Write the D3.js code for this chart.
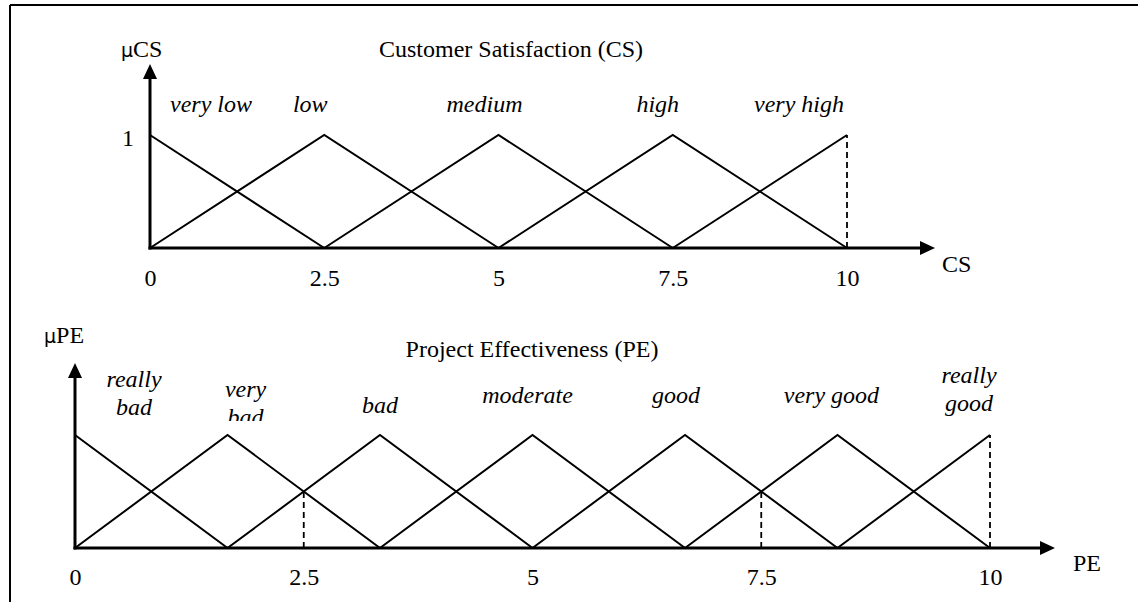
<!DOCTYPE html>
<html>
<head>
<meta charset="utf-8">
<script src="https://cdn.jsdelivr.net/npm/d3@7"></script>
<style>
  html, body { margin: 0; padding: 0; background: #fff; }
  svg { display: block; }
  text { font-family: "Liberation Serif", "Times New Roman", serif; fill: #000; }
</style>
</head>
<body>
<svg id="chart" width="1138" height="602"></svg>
<script>
// ---------- DATA ----------
const tickValues = [0, 2.5, 5, 7.5, 10];
const tickLabels = ["0", "2.5", "5", "7.5", "10"];

// Customer Satisfaction (CS) terms and triangle vertices [x, membership]
const csTerms = ["very low", "low", "medium", "high", "very high"];
const csShapes = [
  [[0, 1], [2.5, 0]],
  [[0, 0], [2.5, 1], [5, 0]],
  [[2.5, 0], [5, 1], [7.5, 0]],
  [[5, 0], [7.5, 1], [10, 0]],
  [[7.5, 0], [10, 1]]
];
const csPeaks = [0, 2.5, 5, 7.5, 10];
const csDashed = [[[10, 0], [10, 1]]];

// Project Effectiveness (PE) terms and triangle vertices
const peTerms = [["really", "bad"], ["very", "bad"], ["bad"], ["moderate"], ["good"], ["very good"], ["really", "good"]];
const peShapes = [
  [[0, 1], [1.667, 0]],
  [[0, 0], [1.667, 1], [3.333, 0]],
  [[1.667, 0], [3.333, 1], [5, 0]],
  [[3.333, 0], [5, 1], [6.667, 0]],
  [[5, 0], [6.667, 1], [8.333, 0]],
  [[6.667, 0], [8.333, 1], [10, 0]],
  [[8.333, 0], [10, 1]]
];
const pePeaks = [0, 1.667, 3.333, 5, 6.667, 8.333, 10];
const peDashed = [[[2.5, 0], [2.5, 0.5]], [[7.5, 0], [7.5, 0.5]], [[10, 0], [10, 1]]];

// ---------- LAYOUT ----------
const svg = d3.select("#chart");
const FS = 24;
const SERIF = '"Liberation Serif", "Times New Roman", serif';

// frame (top + left border)
svg.append("line").attr("x1", 10).attr("y1", 5).attr("x2", 1138).attr("y2", 5)
  .attr("stroke", "#000").attr("stroke-width", 2);
svg.append("line").attr("x1", 10).attr("y1", 5).attr("x2", 10).attr("y2", 602)
  .attr("stroke", "#000").attr("stroke-width", 2);

svg.append("defs").append("clipPath").attr("id", "clipVB")
  .append("rect").attr("x", 0).attr("y", 0).attr("width", 1138).attr("height", 421);

function drawPanel(cfg) {
  const x = d3.scaleLinear().domain([0, 10]).range(cfg.xRange);
  const y = d3.scaleLinear().domain([0, 1]).range(cfg.yRange);
  const g = svg.append("g");
  const line = d3.line().x(d => x(d[0])).y(d => y(d[1]));

  // membership triangles
  g.selectAll("path.mf").data(cfg.shapes).join("path")
    .attr("class", "mf")
    .attr("d", line)
    .attr("fill", "none").attr("stroke", "#000").attr("stroke-width", 2)
    .attr("stroke-linejoin", "miter");

  // dashed guides
  g.selectAll("path.dash").data(cfg.dashed).join("path")
    .attr("class", "dash")
    .attr("d", line)
    .attr("fill", "none").attr("stroke", "#000").attr("stroke-width", 1.8)
    .attr("stroke-dasharray", "6,4");

  // axes lines
  const x0 = x(0), y0 = y(0);
  g.append("line").attr("x1", x0 - 1.5).attr("y1", y0).attr("x2", cfg.xTip - 14).attr("y2", y0)
    .attr("stroke", "#000").attr("stroke-width", 3);
  g.append("path")
    .attr("d", `M${cfg.xTip},${y0} L${cfg.xTip - 15},${y0 - 7} L${cfg.xTip - 15},${y0 + 7} Z`)
    .attr("fill", "#000");
  g.append("line").attr("x1", x0).attr("y1", y0 + 1.5).attr("x2", x0).attr("y2", cfg.yTip + 14)
    .attr("stroke", "#000").attr("stroke-width", 3);
  g.append("path")
    .attr("d", `M${x0},${cfg.yTip} L${x0 - 7},${cfg.yTip + 15} L${x0 + 7},${cfg.yTip + 15} Z`)
    .attr("fill", "#000");

  // x tick labels via d3 axis
  const axis = d3.axisBottom(x).tickValues(tickValues)
    .tickFormat((d, i) => tickLabels[i]).tickSize(0);
  const ag = g.append("g").attr("transform", `translate(0,${y0})`).call(axis);
  ag.attr("font-family", null).attr("font-size", null);
  ag.select(".domain").remove();
  ag.selectAll("text")
    .attr("y", cfg.tickDy).attr("dy", 0)
    .style("font-family", SERIF)
    .style("font-size", FS + "px").attr("fill", "#000");

  // axis names
  g.append("text").attr("x", cfg.xName[0]).attr("y", cfg.xName[1])
    .style("font-size", FS + "px").text(cfg.xLabel);
  const mu = g.append("text").attr("x", cfg.muPos[0]).attr("y", cfg.muPos[1])
    .style("font-size", FS + "px");
  mu.append("tspan").style("font-family", '"DejaVu Sans", sans-serif').style("font-size", (FS - 5) + "px").text("\u03BC");
  mu.append("tspan").text(cfg.xLabel);

  // title
  g.append("text").attr("x", cfg.title[1]).attr("y", cfg.title[2])
    .attr("text-anchor", "middle").style("font-size", FS + "px").text(cfg.title[0]);

  // term labels
  cfg.terms.forEach((t, i) => {
    const lines = Array.isArray(t) ? t : [t];
    const tx = x(cfg.peaks[i]) + cfg.labelDx[i];
    const parent = cfg.clip && cfg.clip[i] ? g.append("g").attr("clip-path", "url(#clipVB)") : g;
    const txt = parent.append("text")
      .attr("x", tx).attr("y", cfg.labelY[i])
      .attr("text-anchor", "middle")
      .style("font-family", SERIF)
      .style("font-size", FS + "px").style("font-style", "italic");
    lines.forEach((l, k) => {
      txt.append("tspan").attr("x", tx).attr("dy", k === 0 ? 0 : 28).text(l);
    });
  });
  return { x, y };
}

// Top panel: Customer Satisfaction
const csPanel = drawPanel({
  xRange: [150, 847], yRange: [248, 135],
  xTip: 935, yTip: 64,
  shapes: csShapes, dashed: csDashed,
  tickDy: 38,
  xLabel: "CS", xName: [942, 272], muPos: [121, 57],
  title: ["Customer Satisfaction (CS)", 511, 57],
  terms: csTerms, peaks: csPeaks,
  labelDx: [61, -14, -14, -15, -48],
  labelY: [112, 112, 112, 112, 112]
});
// "1" tick on y axis
svg.append("text").attr("x", csPanel.x(0) - 16).attr("y", csPanel.y(1) + 11)
  .attr("text-anchor", "end").style("font-size", FS + "px").text("1");

// Bottom panel: Project Effectiveness
drawPanel({
  xRange: [75, 990], yRange: [548, 435],
  xTip: 1055, yTip: 363,
  shapes: peShapes, dashed: peDashed,
  tickDy: 37,
  xLabel: "PE", xName: [1073, 571], muPos: [44, 343],
  title: ["Project Effectiveness (PE)", 532, 357],
  terms: peTerms, peaks: pePeaks,
  labelDx: [59, 18, 0, -5, -9, -6, -21],
  labelY: [387, 397, 413, 403, 403, 403, 383],
  clip: [false, true, false, false, false, false, false]
});
</script>
</body>
</html>
